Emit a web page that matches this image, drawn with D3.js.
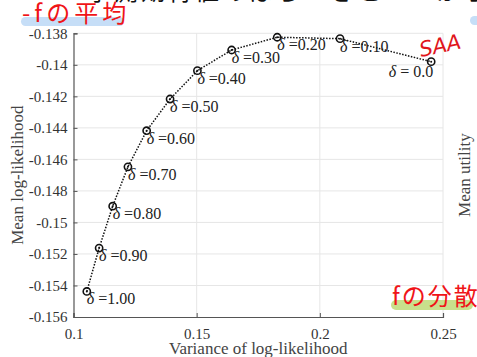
<!DOCTYPE html>
<html>
<head>
<meta charset="utf-8">
<script src="https://cdn.jsdelivr.net/npm/d3@7"></script>
<style>
  body { margin: 0; background: #fff; }
  svg { display: block; }
</style>
</head>
<body>
<script>
// data
const deltaLabels = ["1.00", "0.90", "0.80", "0.70", "0.60", "0.50", "0.40", "0.30", "0.20", "0.10", "0.0"];
const varianceValues = [0.1054, 0.1104, 0.1159, 0.1221, 0.1297, 0.1392, 0.1503, 0.1642, 0.1827, 0.2082, 0.2452];
const meanValues = [-0.15438, -0.15163, -0.14897, -0.14647, -0.14418, -0.14217, -0.14037, -0.13906, -0.13825, -0.13834, -0.1398];
const xTicks = [0.1, 0.15, 0.2, 0.25];
const yTicks = [-0.156, -0.154, -0.152, -0.15, -0.148, -0.146, -0.144, -0.142, -0.14, -0.138];

const width = 477, height = 357;
const margin = {left: 73.5, top: 33.3, right: 34, bottom: 40};

const svg = d3.select("body").append("svg")
    .attr("width", width)
    .attr("height", height);

const x = d3.scaleLinear().domain([0.1, 0.25]).range([margin.left, width - margin.right]);
const y = d3.scaleLinear().domain([-0.156, -0.138]).range([height - margin.bottom, margin.top]);

const serif = "'Liberation Serif', 'DejaVu Serif', serif";
const cjk = "'Noto Sans CJK JP', 'Noto Sans', sans-serif";

// plain hyphen instead of d3's unicode minus, like the original
const fmt = d => String(+d.toFixed(3)).replace("\u2212", "-");

// grid
svg.append("g").selectAll("line")
    .data(yTicks.slice(1))
  .enter().append("line")
    .attr("x1", x(0.1)).attr("x2", x(0.25))
    .attr("y1", d => y(d)).attr("y2", d => y(d))
    .attr("stroke", "#e6e6e6").attr("stroke-width", 1);

svg.append("g").selectAll("line")
    .data(xTicks.slice(1))
  .enter().append("line")
    .attr("x1", d => x(d)).attr("x2", d => x(d))
    .attr("y1", y(-0.156)).attr("y2", y(-0.138))
    .attr("stroke", "#e6e6e6").attr("stroke-width", 1);

// axes
const yAxis = d3.axisLeft(y).tickValues(yTicks).tickSize(-4).tickPadding(6).tickFormat(fmt);
const gy = svg.append("g").attr("transform", `translate(${x(0.1)},0)`).call(yAxis);

const xAxis = d3.axisBottom(x).tickValues(xTicks).tickSize(-4).tickPadding(8).tickFormat(fmt);
const gx = svg.append("g").attr("transform", `translate(0,${y(-0.156)})`).call(xAxis);

[gx, gy].forEach(g => {
  g.select(".domain").attr("stroke", "#555").attr("stroke-width", 1.2);
  g.selectAll(".tick line").attr("stroke", "#555");
  g.selectAll("text").attr("font-family", serif).attr("font-size", 15).attr("fill", "#333");
});
gx.selectAll(".tick text").attr("dy", "0.95em");

// axis labels
svg.append("text")
    .attr("transform", `translate(23,${(y(-0.156) + y(-0.138)) / 2}) rotate(-90)`)
    .attr("text-anchor", "middle")
    .attr("font-family", serif).attr("font-size", 17).attr("fill", "#444")
    .text("Mean log-likelihood");

svg.append("text")
    .attr("transform", `translate(470,${(y(-0.156) + y(-0.138)) / 2}) rotate(-90)`)
    .attr("text-anchor", "middle")
    .attr("font-family", serif).attr("font-size", 17).attr("fill", "#444")
    .text("Mean utility");

svg.append("text")
    .attr("x", (x(0.1) + x(0.25)) / 2)
    .attr("y", 354)
    .attr("text-anchor", "middle")
    .attr("font-family", serif).attr("font-size", 17).attr("fill", "#444")
    .text("Variance of log-likelihood");

// dotted curve
const pts = varianceValues.map((v, i) => ({v: v, m: meanValues[i], d: deltaLabels[i]}));
const line = d3.line().x(d => x(d.v)).y(d => y(d.m));
svg.append("path")
    .datum(pts)
    .attr("d", line)
    .attr("fill", "none")
    .attr("stroke", "#111")
    .attr("stroke-width", 1.5)
    .attr("stroke-dasharray", "1.5,1.5");

const node = svg.selectAll(".pt")
    .data(pts)
  .enter().append("g")
    .attr("class", "pt")
    .attr("transform", d => "translate(" + x(d.v) + "," + y(d.m) + ")");

node.append("circle").attr("r", 3.6)
    .attr("fill", "none").attr("stroke", "#111").attr("stroke-width", 1.6);
node.append("circle").attr("r", 1).attr("fill", "#111");

// delta labels
const last = pts.length - 1;
node.append("text")
    .attr("x", (d, i) => i === last ? 2 : 0)
    .attr("y", (d, i) => i === last ? 15 : 13)
    .attr("text-anchor", (d, i) => i === last ? "end" : "start")
    .attr("font-family", serif).attr("font-size", 16).attr("fill", "#222")
    .each(function(d, i) {
      const t = d3.select(this);
      t.append("tspan").attr("font-style", "italic").text("δ");
      t.append("tspan").text(i === last ? " = " + d.d : " =" + d.d);
    });

// annotations overlaid on the screenshot
svg.append("text")
    .attr("x", 60).attr("y", 0)
    .attr("font-family", cjk).attr("font-size", 24).attr("fill", "#111")
    .attr("letter-spacing", 3)
    .text("・予測期待値のばらつきとSAAからの分散の場合:");

svg.append("rect")
    .attr("x", 21).attr("y", 17).attr("width", 103).attr("height", 9).attr("rx", 4.5)
    .attr("fill", "#c6def7");
svg.append("rect")
    .attr("x", 470).attr("y", 16).attr("width", 12).attr("height", 9).attr("rx", 4.5)
    .attr("fill", "#c6def7");
svg.append("text")
    .attr("x", 22).attr("y", 22)
    .attr("font-family", cjk).attr("font-size", 24).attr("fill", "#f01418")
    .attr("letter-spacing", 4)
    .text("-fの平均");

svg.append("text")
    .attr("transform", "translate(421,57) rotate(-12)")
    .attr("font-family", "'DejaVu Sans', sans-serif").attr("font-size", 21)
    .attr("fill", "#e0161c").attr("font-style", "italic")
    .text("SAA");

svg.append("rect")
    .attr("x", 391).attr("y", 300).attr("width", 82).attr("height", 10).attr("rx", 5)
    .attr("fill", "#c8e08c");
svg.append("text")
    .attr("x", 392).attr("y", 305)
    .attr("font-family", cjk).attr("font-size", 24).attr("fill", "#f01418")
    .attr("letter-spacing", 2)
    .text("fの分散");
</script>
</body>
</html>
